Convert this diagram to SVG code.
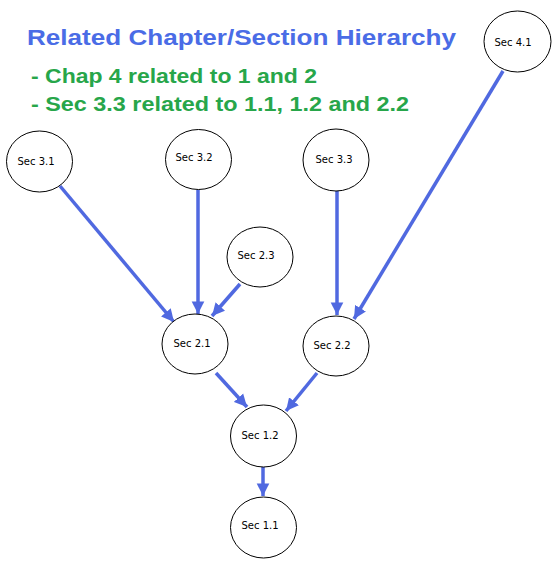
<svg xmlns="http://www.w3.org/2000/svg" width="560" height="569" viewBox="0 0 560 569">
<style>
.n ellipse{fill:#fff;stroke:#000;stroke-width:1}
.n text{font-family:"DejaVu Sans",Verdana,sans-serif;font-size:10px;fill:#000;text-anchor:middle}
.e line{stroke:#5069E0;stroke-width:3.5;fill:none}
.t{font-family:"Liberation Sans",Arial,sans-serif;font-weight:bold}
</style>
<defs>
<marker id="ah" viewBox="0 0 10 10" refX="10" refY="5" markerWidth="3.6" markerHeight="3.8" orient="auto" markerUnits="strokeWidth">
<path d="M0,0 L10,5 L0,10 z" fill="#5069E0"/>
</marker>
</defs>
<rect width="560" height="569" fill="#fff"/>
<text class="t" x="27" y="45" font-size="22" fill="#4A6CE6" textLength="429" lengthAdjust="spacingAndGlyphs">Related Chapter/Section Hierarchy</text>
<text class="t" x="31" y="83" font-size="19.5" fill="#27A64A" textLength="286" lengthAdjust="spacingAndGlyphs">- Chap 4 related to 1 and 2</text>
<text class="t" x="31" y="111" font-size="19.5" fill="#27A64A" textLength="378" lengthAdjust="spacingAndGlyphs">- Sec 3.3 related to 1.1, 1.2 and 2.2</text>
<g class="e">
<line x1="60" y1="186" x2="174" y2="322" marker-end="url(#ah)"/>
<line x1="198" y1="190" x2="198" y2="314" marker-end="url(#ah)"/>
<line x1="240" y1="284" x2="212" y2="316" marker-end="url(#ah)"/>
<line x1="337" y1="191" x2="337" y2="315" marker-end="url(#ah)"/>
<line x1="503" y1="71" x2="354" y2="319" marker-end="url(#ah)"/>
<line x1="216" y1="373" x2="247" y2="407" marker-end="url(#ah)"/>
<line x1="317" y1="373" x2="286" y2="411" marker-end="url(#ah)"/>
<line x1="263" y1="467" x2="263" y2="496" marker-end="url(#ah)"/>
</g>
<g id="sec41" class="n"><ellipse cx="517.5" cy="41.5" rx="33.5" ry="30.5"/><text x="513" y="46">Sec 4.1</text></g>
<g id="sec31" class="n"><ellipse cx="39.5" cy="161.5" rx="33" ry="30.5"/><text x="36" y="165">Sec 3.1</text></g>
<g id="sec32" class="n"><ellipse cx="198.5" cy="159.5" rx="33" ry="30"/><text x="194" y="161">Sec 3.2</text></g>
<g id="sec33" class="n"><ellipse cx="336" cy="160" rx="33" ry="31"/><text x="334" y="163">Sec 3.3</text></g>
<g id="sec23" class="n"><ellipse cx="260" cy="257" rx="33" ry="30"/><text x="256" y="259">Sec 2.3</text></g>
<g id="sec21" class="n"><ellipse cx="195" cy="344" rx="33" ry="30"/><text x="192" y="347">Sec 2.1</text></g>
<g id="sec22" class="n"><ellipse cx="336" cy="346" rx="33" ry="30"/><text x="332" y="349">Sec 2.2</text></g>
<g id="sec12" class="n"><ellipse cx="263.5" cy="436" rx="33" ry="31"/><text x="260" y="439">Sec 1.2</text></g>
<g id="sec11" class="n"><ellipse cx="263.5" cy="527.5" rx="33" ry="30.5"/><text x="260" y="529">Sec 1.1</text></g>
</svg>
